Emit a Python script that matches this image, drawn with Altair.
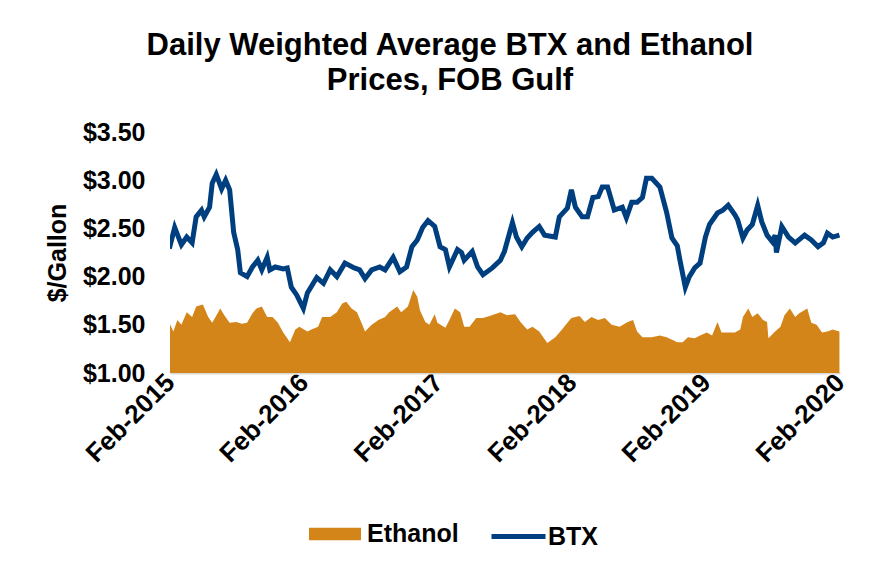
import altair as alt
import pandas as pd

# ---- data (time in decimal years) ----
btx_t = [2015.08, 2015.12, 2015.17, 2015.21, 2015.25, 2015.28, 2015.32, 2015.34, 2015.38, 2015.40,
         2015.43, 2015.47, 2015.50, 2015.53, 2015.56, 2015.59, 2015.61, 2015.66, 2015.70, 2015.74,
         2015.77, 2015.81, 2015.83, 2015.87, 2015.93, 2015.96, 2015.99, 2016.03, 2016.08, 2016.11,
         2016.18, 2016.23, 2016.28, 2016.33, 2016.39, 2016.46, 2016.50, 2016.54, 2016.59, 2016.65,
         2016.69, 2016.75, 2016.80, 2016.85, 2016.89, 2016.93, 2016.97, 2017.01, 2017.06, 2017.10,
         2017.14, 2017.17, 2017.23, 2017.26, 2017.28, 2017.34, 2017.38, 2017.42, 2017.49, 2017.55,
         2017.58, 2017.64, 2017.67, 2017.71, 2017.75, 2017.79, 2017.84, 2017.88, 2017.96, 2017.99,
         2018.05, 2018.08, 2018.11, 2018.16, 2018.20, 2018.24, 2018.28, 2018.31, 2018.35, 2018.40,
         2018.46, 2018.49, 2018.53, 2018.57, 2018.61, 2018.64, 2018.68, 2018.74, 2018.79, 2018.83,
         2018.87, 2018.89, 2018.93, 2018.96, 2019.00, 2019.04, 2019.08, 2019.11, 2019.17, 2019.21,
         2019.25, 2019.30, 2019.32, 2019.36, 2019.39, 2019.43, 2019.47, 2019.50, 2019.54, 2019.58,
         2019.60, 2019.61, 2019.65, 2019.70, 2019.75, 2019.82, 2019.87, 2019.92, 2019.96, 2019.99,
         2020.03, 2020.08]
btx_v = [2.29, 2.51, 2.33, 2.41, 2.35, 2.62, 2.69, 2.62, 2.72, 2.97,
         3.06, 2.91, 3.00, 2.90, 2.46, 2.28, 2.04, 2.00, 2.10, 2.17,
         2.07, 2.20, 2.07, 2.10, 2.08, 2.09, 1.89, 1.81, 1.67, 1.83,
         1.99, 1.93, 2.07, 2.00, 2.14, 2.09, 2.07, 1.98, 2.07, 2.10,
         2.07, 2.20, 2.05, 2.10, 2.31, 2.38, 2.51, 2.58, 2.52, 2.31,
         2.28, 2.10, 2.28, 2.25, 2.17, 2.26, 2.10, 2.02, 2.09, 2.17,
         2.26, 2.56, 2.41, 2.31, 2.40, 2.46, 2.52, 2.43, 2.41, 2.62,
         2.71, 2.90, 2.72, 2.62, 2.62, 2.82, 2.83, 2.93, 2.93, 2.69,
         2.72, 2.61, 2.77, 2.77, 2.82, 3.02, 3.02, 2.93, 2.67, 2.40,
         2.32, 2.17, 1.89, 2.00, 2.09, 2.14, 2.41, 2.54, 2.66, 2.69,
         2.74, 2.64, 2.59, 2.40, 2.48, 2.54, 2.74, 2.57, 2.43, 2.36,
         2.43, 2.25, 2.52, 2.41, 2.35, 2.43, 2.38, 2.31, 2.35, 2.45,
         2.41, 2.43]

eth_t = [2015.08, 2015.11, 2015.14, 2015.17, 2015.21, 2015.25, 2015.28, 2015.33, 2015.37, 2015.40,
         2015.46, 2015.49, 2015.53, 2015.58, 2015.62, 2015.66, 2015.70, 2015.73, 2015.77, 2015.81,
         2015.85, 2015.89, 2015.93, 2015.98, 2016.02, 2016.05, 2016.11, 2016.14, 2016.19, 2016.22,
         2016.28, 2016.33, 2016.37, 2016.40, 2016.44, 2016.48, 2016.52, 2016.54, 2016.59, 2016.64,
         2016.69, 2016.72, 2016.78, 2016.81, 2016.86, 2016.90, 2016.93, 2016.95, 2016.99, 2017.02,
         2017.06, 2017.08, 2017.14, 2017.17, 2017.21, 2017.25, 2017.28, 2017.32, 2017.37, 2017.42,
         2017.47, 2017.55, 2017.60, 2017.66, 2017.70, 2017.75, 2017.79, 2017.84, 2017.90, 2017.96,
         2018.01, 2018.05, 2018.08, 2018.14, 2018.18, 2018.23, 2018.28, 2018.33, 2018.38, 2018.44,
         2018.50, 2018.54, 2018.57, 2018.61, 2018.68, 2018.74, 2018.79, 2018.84, 2018.87, 2018.91,
         2018.95, 2019.00, 2019.04, 2019.09, 2019.13, 2019.17, 2019.20, 2019.25, 2019.30, 2019.34,
         2019.36, 2019.40, 2019.43, 2019.47, 2019.51, 2019.54, 2019.55, 2019.60, 2019.64, 2019.67,
         2019.71, 2019.75, 2019.78, 2019.84, 2019.87, 2019.91, 2019.95, 2019.99, 2020.03, 2020.08]
eth_v = [1.52, 1.43, 1.55, 1.50, 1.63, 1.58, 1.69, 1.71, 1.58, 1.52,
         1.67, 1.60, 1.52, 1.53, 1.51, 1.52, 1.62, 1.67, 1.69, 1.58,
         1.58, 1.52, 1.42, 1.32, 1.45, 1.48, 1.43, 1.45, 1.48, 1.58,
         1.58, 1.63, 1.72, 1.74, 1.67, 1.63, 1.50, 1.43, 1.50, 1.55,
         1.58, 1.63, 1.69, 1.63, 1.69, 1.86, 1.79, 1.65, 1.53, 1.50,
         1.61, 1.52, 1.47, 1.55, 1.67, 1.63, 1.48, 1.48, 1.57, 1.57,
         1.59, 1.63, 1.60, 1.61, 1.53, 1.45, 1.48, 1.43, 1.31, 1.37,
         1.45, 1.52, 1.57, 1.59, 1.53, 1.58, 1.55, 1.57, 1.50, 1.48,
         1.53, 1.55, 1.43, 1.37, 1.37, 1.39, 1.37, 1.34, 1.32, 1.32,
         1.37, 1.36, 1.39, 1.42, 1.39, 1.53, 1.42, 1.42, 1.42, 1.45,
         1.58, 1.67, 1.58, 1.62, 1.55, 1.53, 1.36, 1.43, 1.48, 1.60,
         1.67, 1.58, 1.62, 1.67, 1.52, 1.50, 1.42, 1.43, 1.45, 1.43]

tick_years = [2015, 2016, 2017, 2018, 2019, 2020]
y_ticks = [1.0, 1.5, 2.0, 2.5, 3.0, 3.5]

ORANGE = "#D4851A"
NAVY = "#003F7F"
FONT = "Liberation Sans"


def to_date(ts):
    base = pd.Timestamp("2015-01-01")
    return [base + pd.to_timedelta((t - 2015.0) * 365.25, unit="D") for t in ts]


btx = pd.DataFrame({"date": to_date(btx_t), "price": btx_v, "series": "BTX"})
eth = pd.DataFrame({"date": to_date(eth_t), "price": eth_v, "series": "Ethanol"})

x_scale = alt.Scale(domain=[alt.DateTime(year=2015, month=2, date=1),
                            alt.DateTime(year=2020, month=2, date=1)])
y_scale = alt.Scale(domain=[1.0, 3.5], zero=False, nice=False)

x_axis = alt.Axis(
    values=[alt.DateTime(year=y, month=2, date=1) for y in tick_years],
    format="%b-%Y", labelAngle=-45, labelAlign="right", labelBaseline="middle",
    labelFont=FONT, labelFontSize=26, labelFontWeight="bold", labelColor="black",
    labelPadding=5, ticks=False, grid=False, domainColor="#D9D9D9", domainWidth=2,
    title=None, labelOverlap=False, labelBound=False, labelFlush=False,
)
y_axis = alt.Axis(
    values=y_ticks, format="$.2f", labelFont=FONT, labelFontSize=25,
    labelFontWeight="bold", labelColor="black", labelPadding=25, ticks=False,
    grid=False, domain=False, title="$/Gallon", titleFont=FONT, titleFontSize=25,
    titleFontWeight="bold", titleColor="black", titlePadding=12,
)

area = alt.Chart(eth).mark_area(clip=True, opacity=1).encode(
    x=alt.X("date:T", scale=x_scale, axis=x_axis),
    y=alt.Y("price:Q", scale=y_scale, axis=y_axis),
    fill=alt.Fill("series:N",
                  scale=alt.Scale(domain=["Ethanol"], range=[ORANGE]),
                  legend=alt.Legend(orient="none", legendX=139, legendY=376,
                                    title=None, padding=0,
                                    symbolType="M-1,-0.24H1V0.24H-1Z",
                                    symbolSize=2704, symbolStrokeWidth=0,
                                    symbolOpacity=1,
                                    labelFont=FONT, labelFontSize=25,
                                    labelFontWeight="bold", labelColor="black",
                                    labelOffset=6)),
)

line = alt.Chart(btx).mark_line(strokeWidth=5, clip=True).encode(
    x=alt.X("date:T", scale=x_scale, axis=x_axis),
    y=alt.Y("price:Q", scale=y_scale, axis=y_axis),
    stroke=alt.Stroke("series:N",
                      scale=alt.Scale(domain=["BTX"], range=[NAVY]),
                      legend=alt.Legend(orient="none", legendX=319, legendY=375,
                                        title=None, padding=0,
                                        symbolType="stroke", symbolSize=2916,
                                        symbolStrokeWidth=5,
                                        labelFont=FONT, labelFontSize=25,
                                        labelFontWeight="bold", labelColor="black",
                                        labelOffset=0)),
)

chart = alt.layer(area, line).resolve_scale(
    fill="independent", stroke="independent"
).properties(
    width=670, height=241,
    padding={"left": 162, "top": 124, "right": 33, "bottom": 188},
    autosize=alt.AutoSizeParams(type="none"),
    title=alt.Title(
        text=["Daily Weighted Average BTX and Ethanol", "Prices, FOB Gulf"],
        font=FONT, fontSize=31, fontWeight="bold", color="black",
        anchor="middle", frame="group", dx=-55, offset=23, lineHeight=35,
    ),
).configure_view(stroke=None)

chart.save("out.html", embed_options={"renderer": "svg", "actions": False})
